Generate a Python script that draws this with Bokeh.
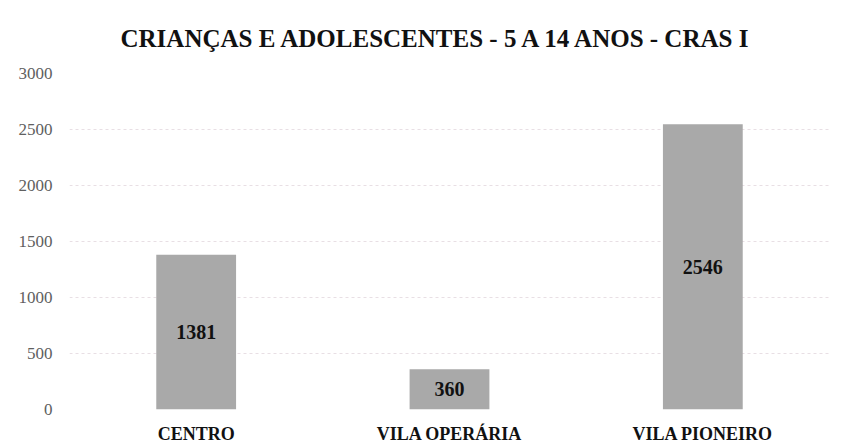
from bokeh.plotting import figure
from bokeh.models import Range1d, ColumnDataSource, LabelSet, FactorRange
from bokeh.embed import file_html
from bokeh.resources import INLINE

categories = ["CENTRO", "VILA OPERÁRIA", "VILA PIONEIRO"]
values = [1381, 360, 2546]
y_ticks = [0, 500, 1000, 1500, 2000, 2500, 3000]
title_text = "CRIANÇAS E ADOLESCENTES - 5 A 14 ANOS - CRAS I"

src = ColumnDataSource(dict(cat=categories, val=values,
                            mid=[v / 2 for v in values],
                            lab=[str(v) for v in values]))

p = figure(width=831, height=446, x_range=FactorRange(*categories, range_padding=0),
           y_range=Range1d(0, 3000), output_backend="svg", toolbar_location=None,
           min_border_left=69, min_border_right=2, min_border_top=72, min_border_bottom=37)
p.title.text = title_text
p.title.text_font = "Liberation Serif"
p.title.text_font_size = "25px"
p.title.text_font_style = "bold"
p.title.align = "left"
p.title.offset = 51
p.title.text_color = "#111111"
p.title.standoff = 44
p.outline_line_color = None

p.vbar(x="cat", top="val", width=0.315, source=src, fill_color="#a9a9a9",
       line_color=None)

labels = LabelSet(x="cat", y="mid", text="lab", source=src, text_align="center",
                  text_baseline="middle", text_font="Liberation Serif",
                  text_font_size="20px", text_font_style="bold", text_color="#111111")
p.add_layout(labels)

p.yaxis.ticker = y_ticks
p.yaxis.axis_line_color = None
p.yaxis.major_tick_line_color = None
p.yaxis.major_tick_out = 0
p.yaxis.minor_tick_line_color = None
p.yaxis.major_label_text_font = "Liberation Serif"
p.yaxis.major_label_text_font_size = "17px"
p.yaxis.major_label_text_color = "#606060"
p.yaxis.major_label_standoff = 17

p.xaxis.axis_line_color = None
p.xaxis.major_tick_line_color = None
p.xaxis.major_tick_out = 0
p.xaxis.axis_label_standoff = 0
p.xaxis.major_label_text_font = "Liberation Serif"
p.xaxis.major_label_text_font_size = "18px"
p.xaxis.major_label_text_font_style = "bold"
p.xaxis.major_label_text_color = "#111111"
p.xaxis.major_label_standoff = 14

p.xgrid.grid_line_color = None
p.ygrid.grid_line_color = "#e8dfe4"
p.ygrid.grid_line_dash = "3 3"
p.ygrid.grid_line_width = 1

open("out.html", "w").write(file_html(p, INLINE))
